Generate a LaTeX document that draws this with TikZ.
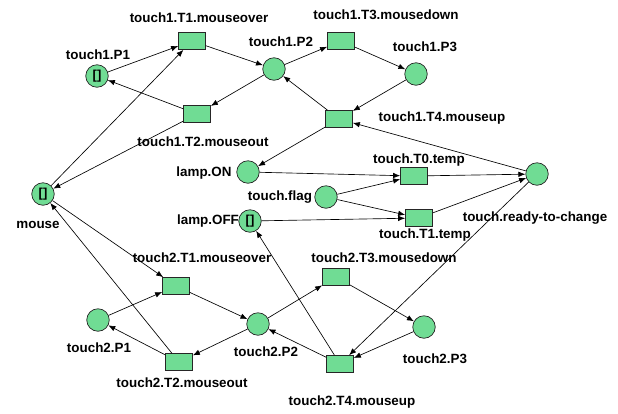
\documentclass[tikz,border=0pt]{standalone}
\usepackage{fontspec}
\setmainfont{Liberation Sans}
\usetikzlibrary{arrows.meta}
\definecolor{pn}{RGB}{112,220,148}
\begin{document}
\begin{tikzpicture}[x=1pt,y=-1pt,
  place/.style={circle,draw=black!85,fill=pn,line width=0.7pt,minimum size=22.5pt,inner sep=0pt},
  trans/.style={rectangle,draw=black!85,fill=pn,line width=0.7pt,minimum width=27pt,minimum height=17pt,inner sep=0pt},
  lbl/.style={font=\fontsize{13.4}{15}\selectfont\bfseries,inner sep=0pt},
  tok/.style={font=\fontsize{13}{15}\selectfont\bfseries,inner sep=0pt},
  arc/.style={-{Latex[length=7pt,width=5.5pt]},line width=0.65pt,black}]
\useasboundingbox (0,0) rectangle (618,413);
% places
\node[place] (p11) at (97,76) {};
\node[place] (p12) at (274,69) {};
\node[place] (p13) at (416,74) {};
\node[place] (mouse) at (43,194) {};
\node[place] (lon) at (248,172) {};
\node[place] (flag) at (326,197) {};
\node[place] (loff) at (250,221) {};
\node[place] (rtc) at (537,174) {};
\node[place] (p21) at (98,320) {};
\node[place] (p22) at (258,324) {};
\node[place] (p23) at (424,327) {};
% tokens
\node[tok] (k1) at (p11) {[]};
\node[tok] (k2) at (mouse) {[]};
\node[tok] (k3) at (loff) {[]};
% transitions
\node[trans] (t11) at (192,41) {};
\node[trans] (t12) at (197,114) {};
\node[trans] (t13) at (341,41) {};
\node[trans] (t14) at (339,119) {};
\node[trans] (tt0) at (414,176) {};
\node[trans] (tt1) at (419,218) {};
\node[trans] (t21) at (176,286) {};
\node[trans] (t22) at (179,362) {};
\node[trans] (t23) at (336,277) {};
\node[trans] (t24) at (340,364) {};
% labels
\node[lbl] (l11) at (199,18) {touch1.T1.mouseover};
\node[lbl] (lp11) at (98,55) {touch1.P1};
\node[lbl] (lp12) at (281,42) {touch1.P2};
\node[lbl] (l13) at (386,15) {touch1.T3.mousedown};
\node[lbl] (lp13) at (425,47) {touch1.P3};
\node[lbl] (l12) at (203,142) {touch1.T2.mouseout};
\node[lbl] (l14) at (442,118) {touch1.T4.mouseup};
\node[lbl] (llon) at (204,173) {lamp.ON};
\node[lbl] (ltt0) at (419,160) {touch.T0.temp};
\node[lbl] (lflag) at (280,197) {touch.flag};
\node[lbl] (lloff) at (208,221) {lamp.OFF};
\node[lbl] (ltt1) at (425,235) {touch.T1.temp};
\node[lbl] (lrtc) at (535,218) {touch.ready-to-change};
\node[lbl] (lmouse) at (38,225) {mouse};
\node[lbl] (l21) at (202,258) {touch2.T1.mouseover};
\node[lbl] (l23) at (384,258) {touch2.T3.mousedown};
\node[lbl] (lp21) at (99,348) {touch2.P1};
\node[lbl] (lp22) at (266,352) {touch2.P2};
\node[lbl] (l22) at (182,383) {touch2.T2.mouseout};
\node[lbl] (lp23) at (435,359) {touch2.P3};
\node[lbl] (l24) at (352,402) {touch2.T4.mouseup};
% arcs touch1
\draw[arc] (p11) -- (t11);
\draw[arc] (t11) -- (p12);
\draw[arc] (p12) -- (t13);
\draw[arc] (t13) -- (p13);
\draw[arc] (p13) -- (t14);
\draw[arc] (t14) -- (p12);
\draw[arc] (p12) -- (t12);
\draw[arc] (t12) -- (p11);
\draw[arc] (mouse) -- (t11);
\draw[arc] (t12) -- (mouse);
\draw[arc] (t14) -- (lon);
\draw[arc] (rtc) -- (t14);
% lamp / temp
\draw[arc] (lon) -- (tt0);
\draw[arc] (flag) -- (tt0);
\draw[arc] (flag) -- (tt1);
\draw[arc] (loff) -- (tt1);
\draw[arc] (tt0) -- (rtc);
\draw[arc] (tt1) -- (rtc);
\draw[arc] (rtc) -- (t24);
\draw[arc] (t24) -- (loff);
% touch2
\draw[arc] (mouse) -- (t21);
\draw[arc] (t22) -- (mouse);
\draw[arc] (p21) -- (t21);
\draw[arc] (t21) -- (p22);
\draw[arc] (p22) -- (t23);
\draw[arc] (t23) -- (p23);
\draw[arc] (p23) -- (t24);
\draw[arc] (t24) -- (p22);
\draw[arc] (p22) -- (t22);
\draw[arc] (t22) -- (p21);
\end{tikzpicture}
\end{document}
